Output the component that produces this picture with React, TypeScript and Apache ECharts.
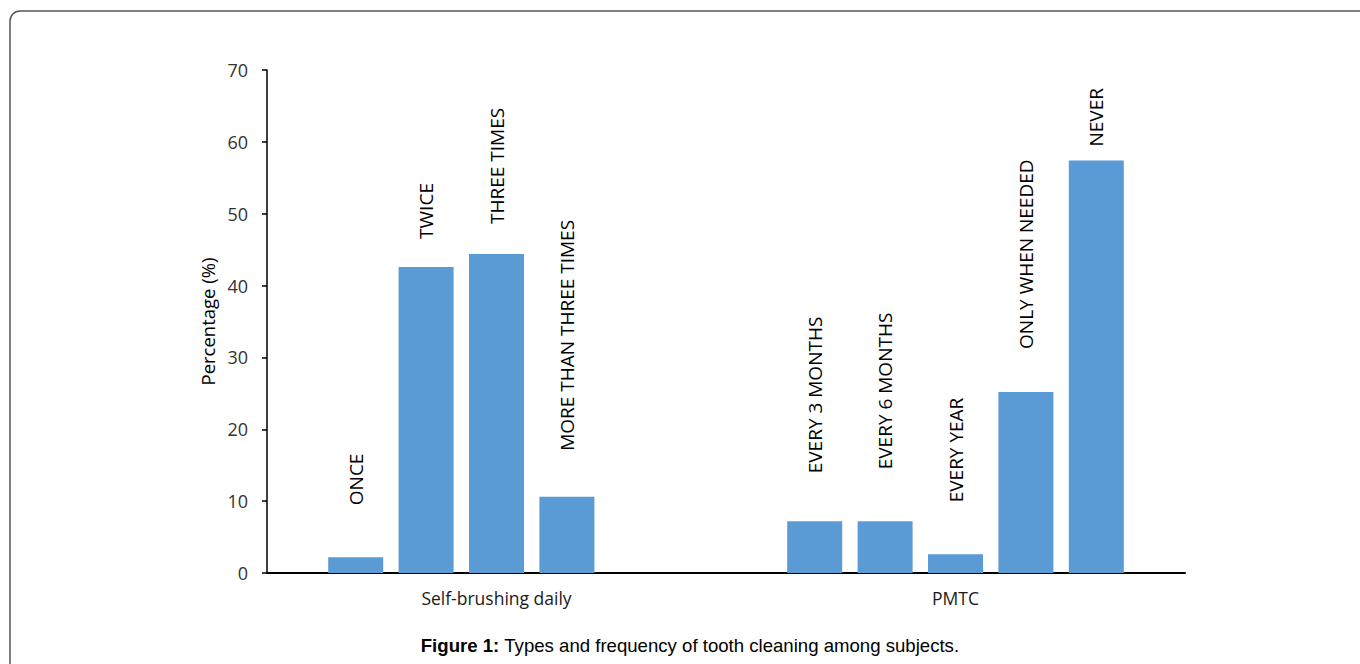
import React, { useEffect, useRef } from "react";
import * as echarts from "echarts";

const categories = ["Self-brushing daily", "PMTC"];

const brushingLabels = ["ONCE", "TWICE", "THREE TIMES", "MORE THAN THREE TIMES"];
const brushingValues = [2.2, 42.6, 44.4, 10.6];

const pmtcLabels = ["EVERY 3 MONTHS", "EVERY 6 MONTHS", "EVERY YEAR", "ONLY WHEN NEEDED", "NEVER"];
const pmtcValues = [7.2, 7.2, 2.6, 25.2, 57.4];

const yMin = 0;
const yMax = 70;
const yInterval = 10;

const yAxisTitle = "Percentage (%)";
const captionBold = "Figure 1:";
const captionText = " Types and frequency of tooth cleaning among subjects.";

// label placement styling (gap above bar, horizontal nudge)
const brushingLabelGap = [52, 32, 28, 45];
const brushingLabelShift = [0, -4, 2, 1];
const pmtcLabelGap = [56, 56, 60, 42, 18];
const pmtcLabelShift = [-8, -4, -8, 1, -4];

const BAR_COLOR = "#5B9BD5";
const FONT = "'Open Sans', sans-serif";

export default function App() {
  const ref = useRef<HTMLDivElement>(null);

  useEffect(() => {
    if (!ref.current) return;
    const chart = echarts.init(ref.current, undefined, { renderer: "svg" });

    const nSeries = Math.max(brushingValues.length, pmtcValues.length);
    const makeItem = (value: number | undefined, text: string | undefined, gap: number, shift: number) => {
      if (value === undefined || text === undefined) return { value: null };
      return {
        value,
        label: {
          show: true,
          formatter: text,
          distance: gap,
          offset: [shift, 0],
        },
      };
    };

    const series: any[] = [];
    for (let k = 0; k < nSeries; k++) {
      series.push({
        type: "bar",
        barWidth: 55,
        barGap: "28%",
        itemStyle: { color: BAR_COLOR },
        label: {
          show: true,
          position: "top",
          rotate: 90,
          align: "left",
          verticalAlign: "middle",
          color: "#000",
          fontFamily: FONT,
          fontSize: 19,
        },
        data: [
          makeItem(brushingValues[k], brushingLabels[k], brushingLabelGap[k] ?? 0, brushingLabelShift[k] ?? 0),
          makeItem(pmtcValues[k], pmtcLabels[k], pmtcLabelGap[k] ?? 0, pmtcLabelShift[k] ?? 0),
        ],
      });
    }

    chart.setOption({
      animation: false,
      backgroundColor: "#fff",
      grid: { left: 267, right: 175, top: 70, bottom: 91, containLabel: false },
      xAxis: {
        type: "category",
        data: categories,
        axisLine: { show: true, lineStyle: { color: "#000", width: 2 } },
        axisTick: { show: false },
        axisLabel: { color: "#1a1a1a", fontFamily: FONT, fontSize: 17.5, margin: 16 },
        splitLine: { show: false },
      },
      yAxis: {
        type: "value",
        min: yMin,
        max: yMax,
        interval: yInterval,
        name: yAxisTitle,
        nameLocation: "middle",
        nameGap: 50,
        nameRotate: 90,
        nameTextStyle: { color: "#000", fontFamily: FONT, fontSize: 18.5 },
        axisLine: { show: true, lineStyle: { color: "#000", width: 1.5 } },
        axisTick: { show: true, inside: false, length: 5, lineStyle: { color: "#000", width: 1.5 } },
        axisLabel: { color: "#333", fontFamily: FONT, fontSize: 18, margin: 19 },
        splitLine: { show: false },
      },
      series,
      graphic: [
        {
          type: "rect",
          shape: { x: 10, y: 11, width: 1420, height: 720, r: 10 },
          style: { fill: "none", stroke: "#555", lineWidth: 1.5 },
          silent: true,
          z: 10,
        },
        {
          type: "text",
          x: 690,
          y: 645,
          style: {
            text: `{b|${captionBold}}${captionText}`,
            align: "center",
            verticalAlign: "middle",
            fill: "#000",
            font: "18.6px 'Liberation Sans', Arial, sans-serif",
            rich: {
              b: { fontWeight: "bold", fontSize: 18.6, fontFamily: "'Liberation Sans', Arial, sans-serif", fill: "#000" },
            },
          },
          z: 10,
        },
      ],
    });

    return () => chart.dispose();
  }, []);

  return (
    <div
      ref={ref}
      style={{ position: "fixed", left: 0, top: 0, width: 1360, height: 664 }}
    />
  );
}
